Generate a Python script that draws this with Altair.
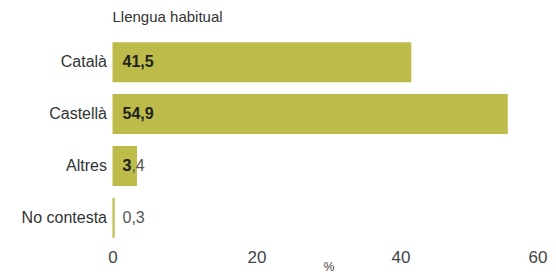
import altair as alt
import pandas as pd

categories = ["Català", "Castellà", "Altres", "No contesta"]
values = [41.5, 54.9, 3.4, 0.3]
labels = ["41,5", "54,9", "3,4", "0,3"]
x_ticks = [0, 20, 40, 60]

df = pd.DataFrame({"cat": categories, "value": values, "label": labels})

FONT = "Liberation Sans"
BAR = "#BDBC4A"

y_enc = alt.Y("cat:N", sort=categories, title=None,
              scale=alt.Scale(paddingInner=0.23, paddingOuter=0.12),
              axis=alt.Axis(domain=False, ticks=False, labelFontSize=16,
                            labelFont=FONT, labelColor="#333333", labelPadding=6))

base = alt.Chart(df)

bars = base.mark_bar(color=BAR).encode(
    x=alt.X("value:Q", title="%",
            scale=alt.Scale(domain=[0, 60], nice=False),
            axis=alt.Axis(values=x_ticks, grid=False, domain=False, ticks=False,
                          labelFlush=False, labelOverlap=False,
                          labelOffset={"condition": {"test": "datum.value == 60", "value": -7}, "value": 0},
                          labelFontSize=17, labelFont=FONT, labelColor="#444444",
                          labelPadding=5, titleFont=FONT, titleFontSize=12,
                          titleFontWeight="normal", titleColor="#444444",
                          titlePadding=-4)),
    y=y_enc,
)

gray_text = base.transform_filter("datum.value < 10").mark_text(
    align="left", baseline="middle", dx=10, font=FONT, fontSize=16, color="#555555"
).encode(x=alt.datum(0), y=alt.Y("cat:N", sort=categories), text="label:N")

dark_text = base.mark_text(
    align="left", baseline="middle", dx=10, font=FONT, fontSize=16,
    fontWeight="bold", color="#222222", ellipsis=" ",
    limit=alt.ExprRef("max(1, scale('x', datum.value) - scale('x', 0) - 10)"),
).encode(x=alt.datum(0), y=alt.Y("cat:N", sort=categories), text="label:N")

chart = alt.layer(bars, gray_text, dark_text).properties(
    width=432, height=208,
    title=alt.TitleParams("Llengua habitual", anchor="start", frame="group",
                          font=FONT, fontSize=15, fontWeight="normal",
                          color="#333333", offset=11),
    autosize=alt.AutoSizeParams(type="none"),
    padding={"left": 104.5, "top": 28, "right": 3.5, "bottom": 28},
).configure_view(stroke=None)

chart.save("out.html", embed_options={"renderer": "svg", "actions": False})
